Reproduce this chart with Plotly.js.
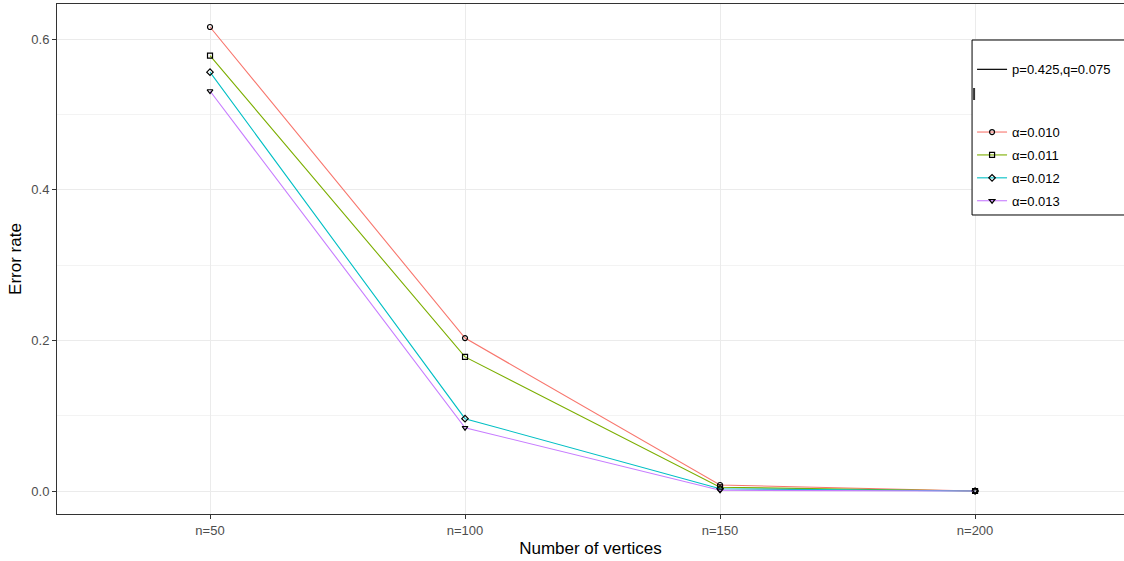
<!DOCTYPE html>
<html>
<head>
<meta charset="utf-8">
<script src="https://cdn.plot.ly/plotly-3.0.1.min.js"></script>
<style>
  html, body { margin: 0; padding: 0; background: #fff; }
  #chart { width: 1124px; height: 561px; }
</style>
</head>
<body>
<div id="chart"></div>
<script>
// Graph sizes on the x axis
const vertices = ["n=50", "n=100", "n=150", "n=200"];

// Error rate per significance level
const alphaLabels = ["α=0.010", "α=0.011", "α=0.012", "α=0.013"];
const err010 = [0.616, 0.203, 0.008, 0.0];
const err011 = [0.578, 0.178, 0.005, 0.0];
const err012 = [0.556, 0.096, 0.003, 0.0];
const err013 = [0.531, 0.084, 0.001, 0.0];

const series = [err010, err011, err012, err013];
const colors = ["#F8766D", "#7CAE00", "#00BFC4", "#C77CFF"];
const symbols = ["circle-open", "square-open", "diamond-open", "triangle-down-open"];

// Legend-only entries: the parameter key and an empty spacer row
const traces = [{
  x: [null], y: [null],
  type: "scatter", mode: "lines",
  name: "p=0.425,q=0.075",
  line: { color: "#000000", width: 1.2 },
  legendgroup: "pq",
  hoverinfo: "skip"
}, {
  x: [null], y: [null],
  type: "scatter", mode: "lines",
  name: " <br> ",
  line: { color: "rgba(0,0,0,0)", width: 0 },
  legendgroup: "spacer",
  hoverinfo: "skip"
}];

series.forEach((vals, i) => {
  traces.push({
    x: vertices,
    y: vals,
    type: "scatter",
    mode: "lines+markers",
    name: alphaLabels[i],
    legendgroup: "a" + i,
    line: { color: colors[i], width: 1.1 },
    marker: { symbol: symbols[i], size: 5, color: "#000000", line: { width: 1.2, color: "#000000" } }
  });
});

const layout = {
  width: 1124,
  height: 561,
  margin: { l: 57, r: 0, t: 4, b: 47 },
  paper_bgcolor: "#ffffff",
  plot_bgcolor: "#ffffff",
  font: { family: "Liberation Sans, Arial, sans-serif", color: "#4d4d4d" },
  showlegend: true,
  legend: {
    x: 0.8576, y: 0.9216, xanchor: "left", yanchor: "top",
    bgcolor: "rgba(0,0,0,0)",
    borderwidth: 0,
    font: { size: 13, color: "#000000" },
    title: { text: " ", font: { size: 8 } },
    traceorder: "grouped",
    tracegroupgap: 3
  },
  xaxis: {
    type: "category",
    categoryorder: "array",
    categoryarray: vertices,
    range: [-0.6, 3.584],
    showgrid: true,
    gridcolor: "#ebebeb",
    gridwidth: 1,
    zeroline: false,
    showline: true,
    mirror: true,
    linecolor: "#333333",
    linewidth: 1,
    ticks: "outside",
    ticklen: 4,
    tickcolor: "#333333",
    tickfont: { size: 13, color: "#4d4d4d" },
    title: { text: "Number of vertices", font: { size: 17, color: "#000000" }, standoff: 5 }
  },
  yaxis: {
    range: [-0.0305, 0.6465],
    tickvals: [0, 0.2, 0.4, 0.6],
    ticktext: ["0.0", "0.2", "0.4", "0.6"],
    showgrid: true,
    gridcolor: "#ebebeb",
    gridwidth: 1,
    minor: { tickvals: [0.1, 0.3, 0.5], showgrid: true, gridcolor: "#f3f3f3", gridwidth: 1, ticks: "" },
    zeroline: false,
    showline: true,
    linecolor: "#333333",
    linewidth: 1,
    ticks: "outside",
    ticklen: 4,
    tickcolor: "#333333",
    tickfont: { size: 13, color: "#4d4d4d" },
    title: { text: "Error rate", font: { size: 17, color: "#000000" }, standoff: 5 }
  },
  shapes: [
    // legend frame, running past the right edge of the page
    {
      type: "rect", xref: "paper", yref: "paper", layer: "above",
      x0: 0.8576, x1: 1.05, y0: 0.5863, y1: 0.9294,
      fillcolor: "#ffffff",
      line: { color: "#000000", width: 1 }
    },
    {
      type: "line", xref: "paper", yref: "paper", layer: "above",
      x0: 0.8595, x1: 0.8595, y0: 0.8118, y1: 0.8353,
      line: { color: "#333333", width: 2 }
    }
  ]
};

Plotly.newPlot("chart", traces, layout, { displayModeBar: false, staticPlot: true });
</script>
</body>
</html>
